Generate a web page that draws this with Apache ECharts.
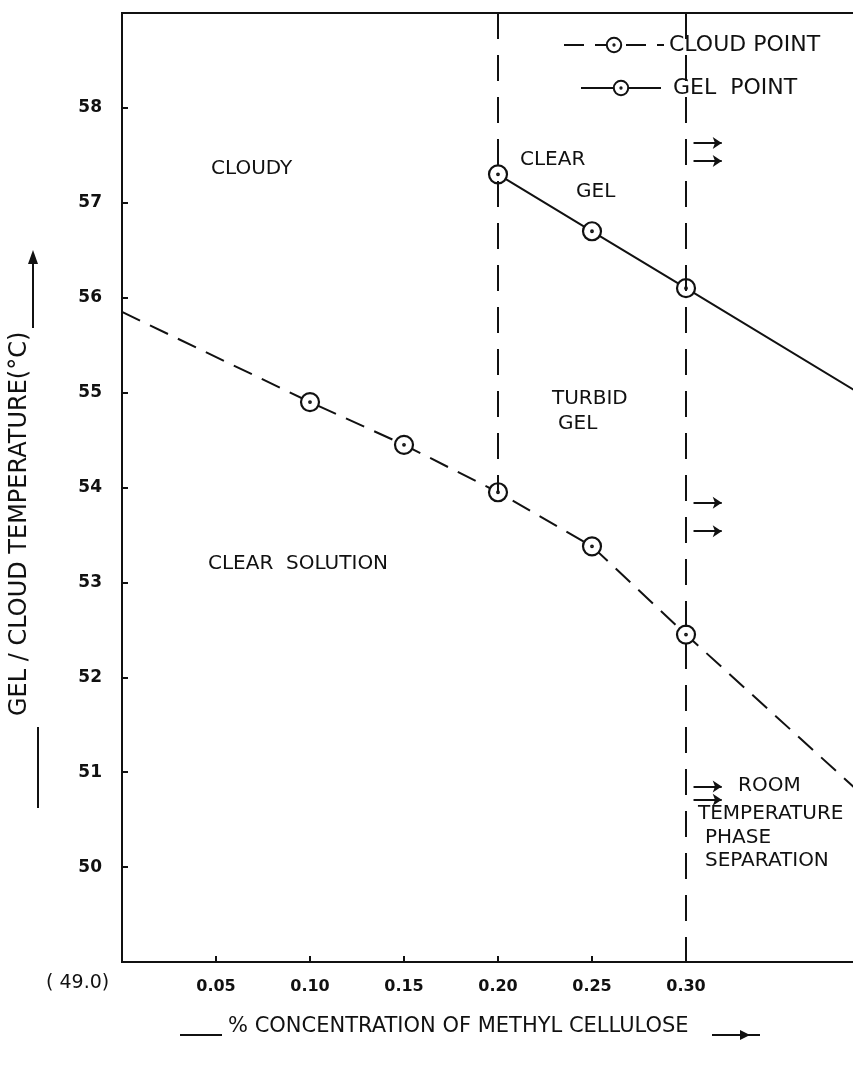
<!DOCTYPE html>
<html>
<head>
<meta charset="utf-8">
<script src="https://cdn.jsdelivr.net/npm/echarts@6.0.0/dist/echarts.min.js"></script>
<style>
  html, body { margin: 0; padding: 0; background: #fff; }
  #chart { width: 853px; height: 1067px; }
</style>
</head>
<body>
<div id="chart"></div>
<script>
// values
const cloudConc = [0.10, 0.15, 0.20, 0.25, 0.30];
const cloudTemp = [54.9, 54.45, 53.95, 53.38, 52.45];
const gelConc = [0.20, 0.25, 0.30];
const gelTemp = [57.3, 56.7, 56.1];
// where the hand-drawn lines run on past the measured points
const cloudLineStart = [0, 55.85];
const cloudLineEnd = [0.4, 50.65];
const gelLineEnd = [0.4, 54.9];
// boundaries (vertical dashed) and the small arrows next to the 0.30 line
const boundaryConc = [0.20, 0.30];
const arrowYs = [57.63, 57.44, 53.84, 53.54, 50.85, 50.71];
const xTickValues = [0.05, 0.10, 0.15, 0.20, 0.25, 0.30];
const yTickValues = [50, 51, 52, 53, 54, 55, 56, 57, 58];

const FONT = "DejaVu Sans";
const ink = "#111";
// ring with a dot in the middle, like the hand drawn markers
const ringDot =
  "path://M0,-10A10,10 0 1,1 0,10A10,10 0 1,1 0,-10Z M0,-0.9A0.9,0.9 0 1,1 0,0.9A0.9,0.9 0 1,1 0,-0.9Z";

const chart = echarts.init(document.getElementById("chart"));

const cloudData = [{ value: cloudLineStart, symbol: "none" }]
  .concat(cloudConc.map((c, i) => [c, cloudTemp[i]]))
  .concat([{ value: cloudLineEnd, symbol: "none" }]);
const gelData = gelConc.map((c, i) => [c, gelTemp[i]])
  .concat([{ value: gelLineEnd, symbol: "none" }]);

function text(str, left, top, size) {
  return {
    type: "text", left: left, top: top,
    style: { text: str, font: (size || 20) + "px '" + FONT + "'", fill: ink }
  };
}

const legendText = { fontFamily: FONT, fontSize: 22, color: ink };

const option = {
  animation: false,
  backgroundColor: "#fff",
  grid: {
    left: 122, top: 13, width: 752, height: 949,
    outerBoundsMode: "none", containLabel: false,
    show: true, borderColor: ink, borderWidth: 2
  },
  legend: [
    {
      data: ["CLOUD POINT"], left: 563, top: 34,
      itemWidth: 100, itemHeight: 18, padding: 0,
      textStyle: legendText
    },
    {
      data: ["GEL POINT"], left: 580, top: 77,
      itemWidth: 80, itemHeight: 18, padding: 0,
      textStyle: legendText,
      formatter: name => " " + name.replace(" ", "  ")
    }
  ],
  xAxis: {
    type: "value", min: 0, max: 0.4,
    axisLine: { lineStyle: { color: ink, width: 2 } },
    axisTick: { inside: true, length: 6, customValues: xTickValues, lineStyle: { color: ink, width: 2 } },
    axisLabel: {
      customValues: xTickValues, margin: 17,
      color: ink, fontFamily: FONT, fontSize: 16, fontWeight: "bold",
      formatter: v => v.toFixed(2)
    },
    splitLine: { show: false }
  },
  yAxis: {
    type: "value", min: 49, max: 59,
    axisLine: { lineStyle: { color: ink, width: 2 } },
    axisTick: { inside: true, length: 6, customValues: yTickValues, lineStyle: { color: ink, width: 2 } },
    axisLabel: {
      customValues: yTickValues, margin: 20,
      color: ink, fontFamily: FONT, fontSize: 17, fontWeight: "bold"
    },
    splitLine: { show: false }
  },
  series: [
    {
      name: "CLOUD POINT",
      type: "line",
      data: cloudData,
      symbol: ringDot, symbolSize: 18,
      itemStyle: { color: "#fff", borderColor: ink, borderWidth: 2.2 },
      lineStyle: { color: ink, width: 2, type: [20, 11] },
      z: 3,
      markLine: {
        silent: true, symbol: "none",
        label: { show: false },
        lineStyle: { color: ink, width: 2, type: [26, 16] },
        data: [
          [{ coord: [boundaryConc[0], 59] }, { coord: [boundaryConc[0], cloudTemp[2]] }],
          [{ coord: [boundaryConc[1], 59] }, { coord: [boundaryConc[1], 49] }]
        ]
      }
    },
    {
      name: "GEL POINT",
      type: "line",
      data: gelData,
      symbol: ringDot, symbolSize: 18,
      itemStyle: { color: "#fff", borderColor: ink, borderWidth: 2.2 },
      lineStyle: { color: ink, width: 2, type: "solid" },
      z: 3,
      markLine: {
        silent: true, symbol: ["none", "arrow"], symbolSize: 9,
        label: { show: false },
        lineStyle: { color: ink, width: 2, type: "solid" },
        data: arrowYs.map(y => [{ coord: [0.304, y] }, { coord: [0.319, y] }])
      }
    }
  ],
  graphic: [
    text("CLOUDY", 211, 159),
    text("CLEAR", 520, 150),
    text("GEL", 576, 182),
    text("TURBID", 552, 389),
    text("GEL", 558, 414),
    text("CLEAR  SOLUTION", 208, 554),
    text("ROOM", 738, 776),
    text("TEMPERATURE", 698, 804),
    text("PHASE", 705, 828),
    text("SEPARATION", 705, 851),
    text("( 49.0)", 46, 974, 19),
    // y axis title
    {
      type: "text", x: 8, y: 716, rotation: Math.PI / 2,
      style: { text: "GEL / CLOUD TEMPERATURE(°C)", font: "24px '" + FONT + "'", fill: ink }
    },
    { type: "line", shape: { x1: 38, y1: 727, x2: 38, y2: 808 }, style: { stroke: ink, lineWidth: 2 } },
    { type: "line", shape: { x1: 33, y1: 328, x2: 33, y2: 258 }, style: { stroke: ink, lineWidth: 2 } },
    { type: "polygon", shape: { points: [[33, 250], [28, 264], [38, 264]] }, style: { fill: ink } },
    // x axis title
    text("% CONCENTRATION OF METHYL CELLULOSE", 228, 1016, 21),
    { type: "line", shape: { x1: 180, y1: 1035, x2: 222, y2: 1035 }, style: { stroke: ink, lineWidth: 2 } },
    { type: "line", shape: { x1: 712, y1: 1035, x2: 760, y2: 1035 }, style: { stroke: ink, lineWidth: 2 } },
    { type: "polygon", shape: { points: [[750, 1035], [740, 1030], [740, 1040]] }, style: { fill: ink } }
  ]
};

chart.setOption(option);
</script>
</body>
</html>
